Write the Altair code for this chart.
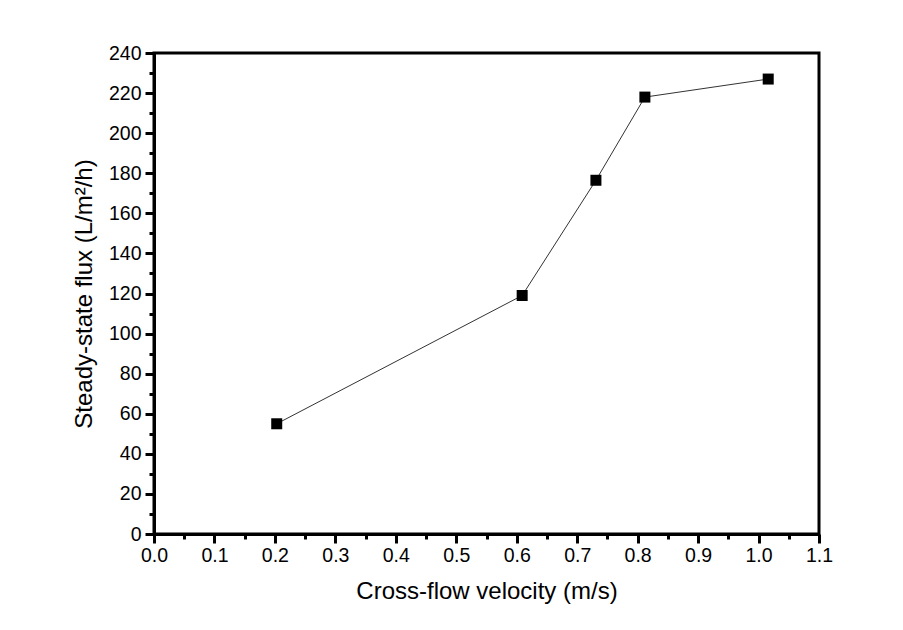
import altair as alt
import pandas as pd

velocity = [0.203, 0.609, 0.731, 0.812, 1.016]
flux = [55, 119, 176.5, 218, 227]

df = pd.DataFrame({"v": velocity, "f": flux})

x_vals = [round(i * 0.05, 2) for i in range(0, 23)]
y_vals = list(range(0, 241, 10))

font = "Liberation Sans"

x_axis = alt.Axis(
    values=x_vals,
    labelExpr="abs(datum.value*10 - round(datum.value*10)) > 0.01 ? '' : format(datum.value, '.1f')",
    tickSize={"condition": {"test": "abs(datum.value*10 - round(datum.value*10)) > 0.01", "value": 5}, "value": 9},
    tickWidth=3, domainWidth=3, domainColor="black", tickColor="black",
    labelFont=font, labelFontSize=19.5, labelColor="black", labelPadding=3, labelFlush=False,
    titleFont=font, titleFontSize=24, titleFontWeight="normal", titleColor="black",
    titlePadding=15, grid=False,
)
y_axis = alt.Axis(
    values=y_vals,
    labelExpr="datum.value % 20 == 0 ? format(datum.value, 'd') : ''",
    tickSize={"condition": {"test": "datum.value % 20 != 0", "value": 5}, "value": 9},
    tickWidth=3, domainWidth=3, domainColor="black", tickColor="black",
    labelFont=font, labelFontSize=19.5, labelColor="black", labelPadding=4, labelFlush=False,
    titleFont=font, titleFontSize=24, titleFontWeight="normal", titleColor="black",
    titlePadding=12, grid=False,
)

x_enc = alt.X("v:Q", scale=alt.Scale(domain=[0, 1.1], nice=False), axis=x_axis,
              title="Cross-flow velocity (m/s)")
y_enc = alt.Y("f:Q", scale=alt.Scale(domain=[0, 240], nice=False), axis=y_axis,
              title="Steady-state flux (L/m²/h)")

line = alt.Chart(df).mark_line(color="#333333", strokeWidth=1).encode(x=x_enc, y=y_enc)
pts = alt.Chart(df).mark_point(shape="square", filled=True, size=121, color="black", opacity=1).encode(x=x_enc, y=y_enc)

chart = (line + pts).properties(
    width=665, height=481,
    background="white",
    autosize=alt.AutoSizeParams(type="none"),
    padding={"left": 146, "top": 45, "right": 70, "bottom": 80},
).configure_view(stroke="black", strokeWidth=3)

chart.save("out.html", embed_options={"renderer": "svg", "actions": False})
